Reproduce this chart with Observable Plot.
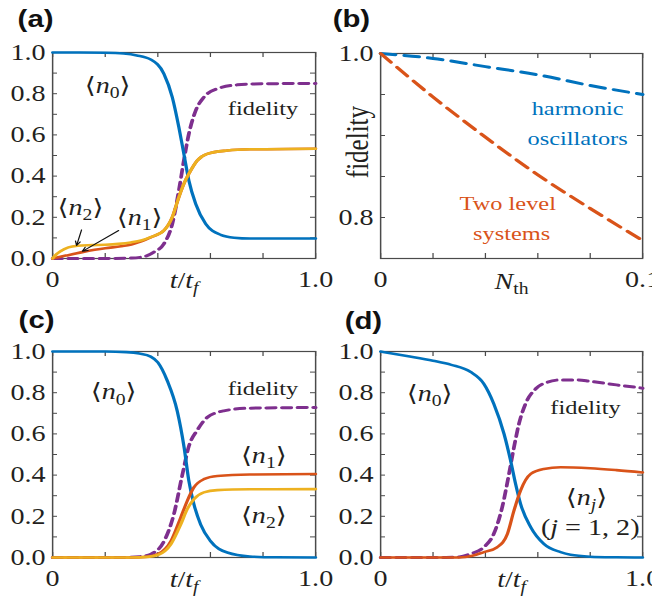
<!DOCTYPE html>
<html><head><meta charset="utf-8">
<script src="https://cdn.jsdelivr.net/npm/d3@7"></script>
<script src="https://cdn.jsdelivr.net/npm/@observablehq/plot@0.6"></script>
<style>
html,body{margin:0;padding:0;background:#fff;overflow:hidden;}
#fig{position:relative;width:652px;height:600px;overflow:hidden;}
.panel{position:absolute;}
</style></head><body><div id="fig"></div>
<script>
// ---------------- data ----------------
// panel (a)
const aN0T = [0, 0.1, 0.2, 0.27, 0.32, 0.373, 0.423, 0.455, 0.48, 0.499, 0.518, 0.544, 0.582, 0.639, 0.69, 0.75, 0.85, 1.0];
const aN0V = [1.0, 1.0, 0.999, 0.995, 0.986, 0.966, 0.897, 0.783, 0.637, 0.508, 0.379, 0.265, 0.168, 0.115, 0.101, 0.097, 0.097, 0.097];
const aFidT = [0, 0.2, 0.3, 0.35, 0.385, 0.423, 0.455, 0.48, 0.499, 0.518, 0.544, 0.575, 0.626, 0.702, 0.8, 1.0];
const aFidV = [0, 0, 0.002, 0.01, 0.031, 0.071, 0.168, 0.33, 0.476, 0.605, 0.718, 0.783, 0.824, 0.843, 0.848, 0.85];
const aN2T = [0, 0.01, 0.03, 0.06, 0.095, 0.15, 0.2, 0.25, 0.297, 0.34, 0.373, 0.423, 0.455, 0.48, 0.499, 0.518, 0.55, 0.588, 0.664, 0.75, 1.0];
const aN2V = [0, 0.015, 0.035, 0.054, 0.062, 0.065, 0.067, 0.071, 0.078, 0.089, 0.104, 0.136, 0.201, 0.298, 0.362, 0.411, 0.476, 0.508, 0.524, 0.53, 0.533];
const aN1T = [0, 0.05, 0.113, 0.16, 0.2, 0.26, 0.3, 0.34, 0.373, 0.423, 0.455, 0.48, 0.499, 0.518, 0.55, 0.588, 0.664, 0.75, 1.0];
const aN1V = [0, 0.014, 0.031, 0.042, 0.05, 0.059, 0.068, 0.084, 0.103, 0.136, 0.201, 0.298, 0.362, 0.411, 0.476, 0.508, 0.524, 0.53, 0.533];

// panel (b)
const bNth = [0, 0.02, 0.04, 0.06, 0.08, 0.1];
const bHarm = [1.0, 0.994, 0.984, 0.974, 0.961, 0.950];
const bTwoLevel = [1.0, 0.947, 0.898, 0.852, 0.811, 0.772];

// panel (c)
const cN0T = [0, 0.2, 0.28, 0.33, 0.373, 0.4, 0.436, 0.474, 0.5, 0.518, 0.537, 0.563, 0.6, 0.664, 0.75, 0.85, 1.0];
const cN0V = [1, 1, 0.997, 0.99, 0.975, 0.947, 0.858, 0.71, 0.534, 0.372, 0.26, 0.16, 0.08, 0.024, 0.005, 0.001, 0];
const cFidT = [0, 0.25, 0.33, 0.373, 0.424, 0.461, 0.493, 0.518, 0.55, 0.588, 0.651, 0.75, 1.0];
const cFidV = [0, 0, 0.004, 0.016, 0.08, 0.21, 0.40, 0.54, 0.618, 0.68, 0.712, 0.725, 0.728];
const cNT = [0, 0.3, 0.36, 0.4, 0.45, 0.487, 0.512, 0.537, 0.575, 0.626, 0.75, 1.0];
const cN1V = [0, 0, 0.004, 0.016, 0.08, 0.194, 0.275, 0.34, 0.38, 0.396, 0.403, 0.405];
const cN2V = [0, 0, 0.003, 0.012, 0.065, 0.16, 0.235, 0.283, 0.316, 0.327, 0.331, 0.332];

// panel (d)
const dN0T = [0, 0.1, 0.2, 0.27, 0.344, 0.394, 0.432, 0.471, 0.496, 0.515, 0.534, 0.573, 0.623, 0.687, 0.725, 0.8, 0.9, 1.0];
const dN0V = [1.0, 0.978, 0.955, 0.935, 0.9, 0.843, 0.746, 0.6, 0.471, 0.358, 0.261, 0.147, 0.066, 0.026, 0.013, 0.004, 0.001, 0];
const dFidT = [0, 0.25, 0.3, 0.344, 0.394, 0.432, 0.464, 0.49, 0.509, 0.528, 0.553, 0.592, 0.636, 0.687, 0.75, 0.8, 0.9, 1.0];
const dFidV = [0, 0, 0.003, 0.018, 0.05, 0.115, 0.244, 0.406, 0.535, 0.649, 0.746, 0.819, 0.851, 0.862, 0.862, 0.855, 0.838, 0.822];
const dNjT = [0, 0.3, 0.35, 0.394, 0.445, 0.484, 0.509, 0.534, 0.573, 0.623, 0.687, 0.8, 0.9, 1.0];
const dNjV = [0, 0, 0.008, 0.026, 0.05, 0.115, 0.228, 0.325, 0.406, 0.43, 0.438, 0.433, 0.424, 0.413];

// ticks
const tTicks = [0, 0.2, 0.4, 0.6, 0.8, 1.0];
const tLabelTicks = [0, 1.0];
const vTicks = [0, 0.1, 0.2, 0.3, 0.4, 0.5, 0.6, 0.7, 0.8, 0.9, 1.0];
const vLabelTicks = [0, 0.2, 0.4, 0.6, 0.8, 1.0];
const nTicks = [0, 0.02, 0.04, 0.06, 0.08, 0.1];
const nLabelTicks = [0, 0.1];
const fTicks = [0.75, 0.8, 0.85, 0.9, 0.95, 1.0];
const fLabelTicks = [0.8, 1.0];

// text
const panelLetters = ["(a)", "(b)", "(c)", "(d)"];
const labelsA = [
  {x: 0.209, y: 0.84, text: "⟨n0⟩", math: true},
  {x: 0.80, y: 0.728, text: "fidelity"},
  {x: 0.106, y: 0.248, text: "⟨n2⟩", math: true},
  {x: 0.331, y: 0.199, text: "⟨n1⟩", math: true}
];
const arrowsA = [
  {x1: 0.110, y1: 0.139, x2: 0.091, y2: 0.063},
  {x1: 0.251, y1: 0.136, x2: 0.113, y2: 0.035}
];
const labelsB = [
  {x: 0.0752, y: 0.933, text: "harmonic", c: "blue"},
  {x: 0.0752, y: 0.896, text: "oscillators", c: "blue"},
  {x: 0.0485, y: 0.817, text: "Two level", c: "red"},
  {x: 0.050, y: 0.780, text: "systems", c: "red"}
];
const labelsC = [
  {x: 0.232, y: 0.802, text: "⟨n0⟩", math: true},
  {x: 0.80, y: 0.82, text: "fidelity"},
  {x: 0.803, y: 0.495, text: "⟨n1⟩", math: true},
  {x: 0.803, y: 0.204, text: "⟨n2⟩", math: true}
];
const labelsD = [
  {x: 0.187, y: 0.796, text: "⟨n0⟩", math: true},
  {x: 0.782, y: 0.728, text: "fidelity"},
  {x: 0.786, y: 0.29, text: "⟨nj⟩", math: true},
  {x: 0.80, y: 0.146, text: "(j = 1, 2)", math: true}
];

// math markup: [string, flags] i = italic, s = subscript
const MATH = {
  "⟨n0⟩": [["⟨", ""], ["n", "i"], ["0", "s"], ["⟩", ""]],
  "⟨n1⟩": [["⟨", ""], ["n", "i"], ["1", "s"], ["⟩", ""]],
  "⟨n2⟩": [["⟨", ""], ["n", "i"], ["2", "s"], ["⟩", ""]],
  "⟨nj⟩": [["⟨", ""], ["n", "i"], ["j", "is"], ["⟩", ""]],
  "(j = 1, 2)": [["(", ""], ["j", "i"], [" = 1, 2)", ""]],
  "t/tf": [["t", "i"], ["/", ""], ["t", "i"], ["f", "is"]],
  "Nth": [["N", "i"], ["th", "s"]]
};

// ---------------- drawing ----------------
const C = {blue: "#0072BD", red: "#D95319", orange: "#EDB120", purple: "#7E2F8E"};
const INK = "#231f20";
const FRAME = "#4a4a4a";
const SERIF = "Liberation Serif, Times New Roman, DejaVu Serif, serif";
const PW = 326, PH = 300, S = 1.25;
const ser = (t, v) => t.map((x, i) => ({t: x, v: v[i]}));

function solid(t, v, color) {
  return Plot.line(ser(t, v), {x: "t", y: "v", stroke: color, strokeWidth: 2.6, curve: "monotone-x"});
}
function dashed(t, v, color, dash) {
  return Plot.line(ser(t, v), {x: "t", y: "v", stroke: color, strokeWidth: 3, strokeDasharray: dash, curve: "monotone-x"});
}
function labels(data, fs) {
  return Plot.text(data, {x: "x", y: "y", text: "text", fontFamily: SERIF, lineAnchor: "middle",
    fontSize: d => d.math ? 22.5 : fs, fill: d => d.c ? C[d.c] : INK});
}

function mathify(svg) {
  svg.querySelectorAll("text").forEach(el => {
    const spec = MATH[el.textContent];
    if (!spec) return;
    const fs = 22.5;
    el.textContent = "";
    let shift = 0;
    for (const [s, f] of spec) {
      const ts = document.createElementNS("http://www.w3.org/2000/svg", "tspan");
      ts.textContent = s;
      if (f.includes("i")) ts.setAttribute("font-style", "italic");
      const isSub = f.includes("s");
      const target = isSub ? fs * 0.24 : 0;
      if (target !== shift) { ts.setAttribute("dy", target - shift); shift = target; }
      if (isSub) ts.setAttribute("font-size", fs * 0.7);
      el.appendChild(ts);
    }
  });
}

function panel(cfg) {
  const uw = PW / S;
  const innerW = uw - cfg.mL - cfg.mR, innerH = PH - cfg.mT - cfg.mB;
  const svg = Plot.plot({
    width: uw, height: PH,
    marginLeft: cfg.mL, marginRight: cfg.mR, marginTop: cfg.mT, marginBottom: cfg.mB,
    x: {domain: cfg.xDom}, y: {domain: cfg.yDom},
    style: {fontFamily: SERIF, color: INK, background: "transparent", overflow: "visible"},
    marks: [
      Plot.frame({stroke: FRAME, strokeWidth: 1.2}),
      Plot.ruleX(cfg.xTicks, {x: d => d, insetTop: innerH - 5, stroke: FRAME, strokeWidth: 1}),
      Plot.ruleX(cfg.xTicks, {x: d => d, insetBottom: innerH - 5, stroke: FRAME, strokeWidth: 1}),
      Plot.ruleY(cfg.yTicks, {y: d => d, insetRight: innerW - 4, stroke: FRAME, strokeWidth: 1}),
      Plot.ruleY(cfg.yTicks, {y: d => d, insetLeft: innerW - 4, stroke: FRAME, strokeWidth: 1}),
      Plot.axisX(cfg.xLab, {tickSize: 0, tickPadding: 13, tickFormat: cfg.xFmt, fontSize: 22.5, fontFamily: SERIF, fill: INK, label: null}),
      Plot.axisY(cfg.yLab, {tickSize: 0, tickPadding: 5.6, tickFormat: cfg.yFmt, fontSize: 22.5, fontFamily: SERIF, fill: INK, label: null}),
      Plot.text([cfg.xTitle], {x: () => (cfg.xDom[0] + cfg.xDom[1]) / 2, frameAnchor: "bottom", lineAnchor: "middle", dy: cfg.xTitleDy,
        text: d => d, fontSize: 22.5, fontFamily: SERIF, fill: INK}),
      Plot.text([cfg.letter], {frameAnchor: "top-left", lineAnchor: "middle", dx: cfg.ldx, dy: cfg.ldy, text: d => d, textAnchor: "start",
        fontFamily: "Liberation Sans, Arial, sans-serif", fontWeight: "bold", fontSize: 23.5, fill: "#111"}),
      ...cfg.marks
    ]
  });
  mathify(svg);
  svg.setAttribute("width", PW);
  svg.setAttribute("height", PH);
  svg.setAttribute("preserveAspectRatio", "none");
  svg.style.width = PW + "px";
  svg.style.height = PH + "px";
  svg.style.maxWidth = "none";
  svg.style.overflow = "visible";
  const div = document.createElement("div");
  div.className = "panel";
  div.style.left = cfg.left + "px";
  div.style.top = cfg.top + "px";
  div.appendChild(svg);
  document.getElementById("fig").appendChild(div);
}

const fmt1 = d => d === 0 ? "0" : d3.format(".1f")(d);
const fmtY = d => d3.format(".1f")(d);

// (a)
panel({
  left: 0, top: 0, mL: 52 / S, mR: PW / S - 315 / S, mT: 52, mB: 42,
  xDom: [0, 1], yDom: [0, 1], xTicks: tTicks, yTicks: vTicks, xLab: tLabelTicks, yLab: vLabelTicks,
  xFmt: fmt1, yFmt: fmtY, xTitle: "t/tf", xTitleDy: 22, letter: panelLetters[0], ldx: -28, ldy: -33,
  marks: [
    dashed(aFidT, aFidV, C.purple, "7.5,5"),
    solid(aN0T, aN0V, C.blue),
    solid(aN1T, aN1V, C.red),
    solid(aN2T, aN2V, C.orange),
    labels(labelsA, 19.5),
    Plot.arrow(arrowsA, {x1: "x1", y1: "y1", x2: "x2", y2: "y2", stroke: "#111", strokeWidth: 1, headLength: 7, headAngle: 50})
  ]
});

// (b)
panel({
  left: 326, top: 0, mL: 54 / S, mR: PW / S - 316 / S, mT: 53, mB: 42,
  xDom: [0, 0.1], yDom: [0.75, 1], xTicks: nTicks, yTicks: fTicks, xLab: nLabelTicks, yLab: fLabelTicks,
  xFmt: fmt1, yFmt: fmtY, xTitle: "Nth", xTitleDy: 23, letter: panelLetters[1], ldx: -38.4, ldy: -34,
  marks: [
    Plot.line(ser(bNth, bHarm), {x: "t", y: "v", stroke: C.blue, strokeWidth: 3, strokeDasharray: "12,7", curve: "monotone-x"}),
    Plot.line(ser(bNth, bTwoLevel), {x: "t", y: "v", stroke: C.red, strokeWidth: 3, strokeDasharray: "12,7", curve: "monotone-x"}),
    labels(labelsB, 19.5),
    Plot.text(["fidelity"], {x: () => -0.0088, y: () => 0.892, text: d => d, rotate: -90, lineAnchor: "middle",
      fontSize: 25, fontFamily: SERIF, fill: INK})
  ]
});

// (c)
panel({
  left: 0, top: 300, mL: 52 / S, mR: PW / S - 315 / S, mT: 51, mB: 43,
  xDom: [0, 1], yDom: [0, 1], xTicks: tTicks, yTicks: vTicks, xLab: tLabelTicks, yLab: vLabelTicks,
  xFmt: fmt1, yFmt: fmtY, xTitle: "t/tf", xTitleDy: 22, letter: panelLetters[2], ldx: -27.2, ldy: -31.5,
  marks: [
    dashed(cFidT, cFidV, C.purple, "7.5,5"),
    solid(cN0T, cN0V, C.blue),
    solid(cNT, cN1V, C.red),
    solid(cNT, cN2V, C.orange),
    labels(labelsC, 19.5)
  ]
});

// (d)
panel({
  left: 326, top: 300, mL: 54 / S, mR: PW / S - 316 / S, mT: 51, mB: 43,
  xDom: [0, 1], yDom: [0, 1], xTicks: tTicks, yTicks: vTicks, xLab: tLabelTicks, yLab: vLabelTicks,
  xFmt: fmt1, yFmt: fmtY, xTitle: "t/tf", xTitleDy: 22, letter: panelLetters[3], ldx: -28.8, ldy: -30.5,
  marks: [
    dashed(dFidT, dFidV, C.purple, "7.5,5"),
    solid(dN0T, dN0V, C.blue),
    solid(dNjT, dNjV, C.red),
    labels(labelsD, 19.5)
  ]
});
</script>
</body></html>
